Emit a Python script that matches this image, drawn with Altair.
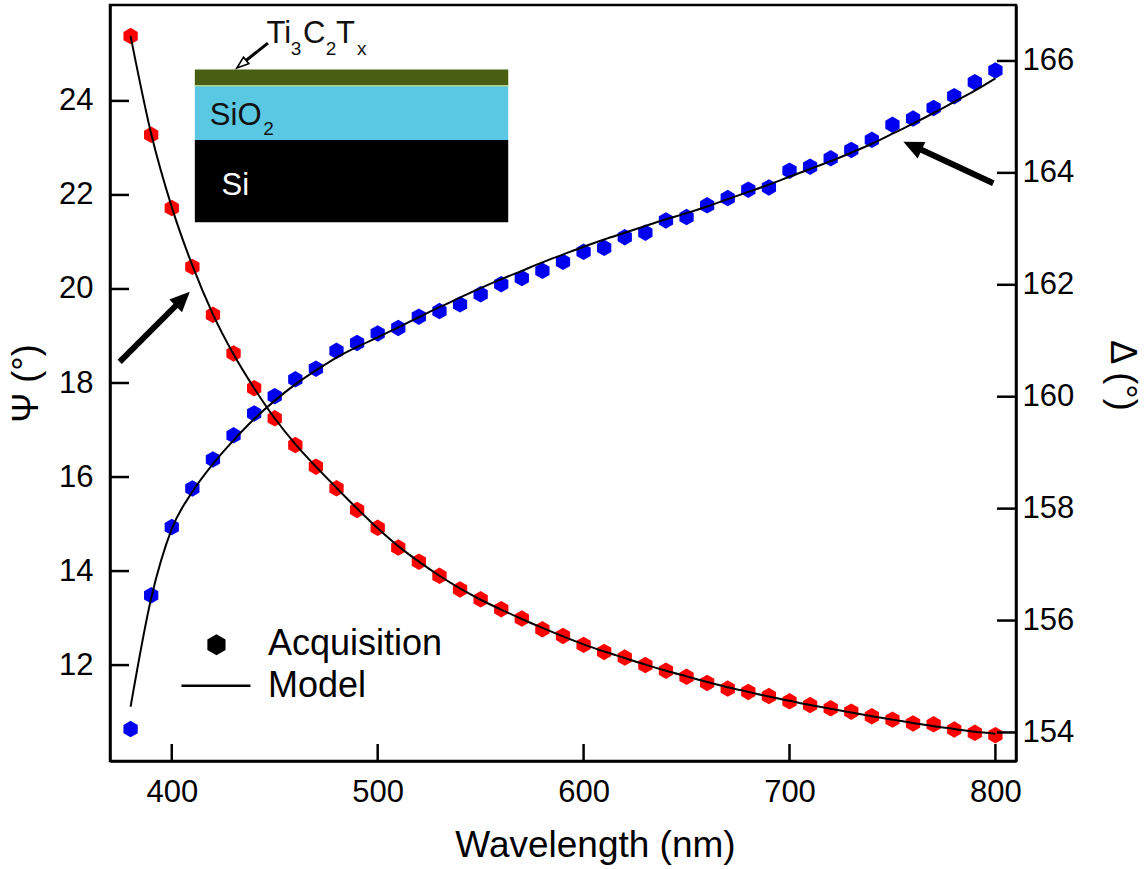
import altair as alt
import pandas as pd

# ---------------- data ----------------
wavelength = list(range(380, 801, 10))

psi_acq = [25.38, 23.28, 21.72, 20.47, 19.45, 18.63, 17.89, 17.25, 16.68, 16.22,
           15.76, 15.30, 14.92, 14.50, 14.20, 13.90, 13.61, 13.40, 13.19, 12.99,
           12.76, 12.62, 12.43, 12.28, 12.16, 12.00, 11.88, 11.75, 11.62, 11.50,
           11.43, 11.34, 11.23, 11.15, 11.08, 11.01, 10.91, 10.84, 10.76, 10.74,
           10.63, 10.56, 10.51]

psi_model = [25.38, 23.30, 21.74, 20.50, 19.46, 18.61, 17.89, 17.25, 16.70, 16.22,
             15.77, 15.33, 14.91, 14.53, 14.20, 13.90, 13.63, 13.39, 13.18, 12.98,
             12.79, 12.61, 12.44, 12.29, 12.15, 12.01, 11.88, 11.76, 11.64, 11.53,
             11.43, 11.33, 11.24, 11.15, 11.07, 10.99, 10.91, 10.84, 10.77, 10.70,
             10.64, 10.58, 10.54]

delta_acq = [154.06, 156.45, 157.67, 158.36, 158.88, 159.31, 159.70, 160.01, 160.31, 160.50,
             160.82, 160.96, 161.13, 161.23, 161.43, 161.53, 161.65, 161.83, 162.01, 162.12,
             162.25, 162.41, 162.59, 162.66, 162.85, 162.93, 163.15, 163.21, 163.42, 163.55,
             163.70, 163.74, 164.04, 164.11, 164.26, 164.41, 164.59, 164.86, 164.97, 165.16,
             165.37, 165.62, 165.83]

delta_model = [154.46, 156.40, 157.64, 158.30, 158.80, 159.22, 159.60, 159.93, 160.22, 160.47,
               160.70, 160.89, 161.06, 161.24, 161.42, 161.60, 161.77, 161.94, 162.10, 162.25,
               162.40, 162.54, 162.68, 162.81, 162.93, 163.05, 163.17, 163.28, 163.40, 163.53,
               163.66, 163.79, 163.93, 164.07, 164.21, 164.36, 164.52, 164.70, 164.88, 165.07,
               165.27, 165.47, 165.69]

x_ticks = [400, 500, 600, 700, 800]
psi_ticks = [12, 14, 16, 18, 20, 22, 24]
delta_ticks = [154, 156, 158, 160, 162, 164, 166]

# annotation anchors (wavelength, Psi) in data units
inset_x = [411.2, 563.4]
layer_ti = [24.32, 24.67]
layer_sio2 = [23.17, 24.32]
layer_si = [21.42, 23.17]

big_text = ["SiO", "Ti", "C", "T"]
big_text_x = [418.5, 446.0, 463.7, 479.7]
big_text_y = [23.49, 25.23, 25.23, 25.23]
sub_text = ["2", "3", "2", "x"]
sub_text_x = [444.4, 457.8, 474.8, 489.9]
sub_text_y = [23.28, 24.98, 24.98, 24.98]
si_text = ["Si"]
si_text_x = [424.2]
si_text_y = [22.0]

# arrows: tail, shaft end, tip, head angle
arrow_tail_x = [374.7, 799.0]
arrow_tail_y = [18.45, 22.25]
arrow_end_x = [404.6, 760.6]
arrow_end_y = [19.76, 23.03]
arrow_tip_x = [408.75, 755.3]
arrow_tip_y = [19.94, 23.13]
arrow_angle = [45, 295]

ti_tail = (446.7, 25.23)
ti_end = (434.6, 24.81)
ti_tip = (431.6, 24.70)
ti_angle = 231

legend_sym = (421.7, 12.43)
legend_line = (404.7, 438.2, 11.56)
legend_labels = ["Acquisition", "Model"]
legend_label_x = [446.7, 446.7]
legend_label_y = [12.21, 11.33]

# ---------------- setup ----------------
W, H = 906, 756
FONT = "Liberation Sans"
HEX = "M0,-1L0.866,-0.5L0.866,0.5L0,1L-0.866,0.5L-0.866,-0.5Z"
HEAD = "M0,0L-0.9,2L0.9,2Z"
HEAD_THIN = "M0,0L-0.7,2L0.7,2Z"

xscale = alt.Scale(domain=[370, 810], nice=False, zero=False)
psiscale = alt.Scale(domain=[9.96, 26.04], nice=False, zero=False)
delscale = alt.Scale(domain=[153.49, 167.0], nice=False, zero=False)

x_axis = alt.Axis(values=x_ticks, ticks=False, tickSize=0, grid=False, title="Wavelength (nm)",
                  labelFontSize=31, titleFontSize=37, titleFontWeight="normal",
                  labelPadding=16, titlePadding=20, titleX=485, domainColor="black", domainWidth=2.5,
                  labelColor="black", titleColor="black", labelFont=FONT, titleFont=FONT)
psi_axis = alt.Axis(values=psi_ticks, ticks=False, tickSize=0, grid=False, title="Ψ (°)",
                    labelFontSize=31, titleFontSize=36, titleFontWeight="normal",
                    labelPadding=17, titlePadding=13, domainColor="black", domainWidth=2.5,
                    labelColor="black", titleColor="black", labelFont=FONT, titleFont=FONT)
del_axis = alt.Axis(values=delta_ticks, orient="right", ticks=False, tickSize=0, grid=False,
                    title="Δ (°)", labelFontSize=31, titleFontSize=36, titleFontWeight="normal",
                    labelPadding=6, titlePadding=29, titleY=370, domainColor="black", domainWidth=2.5,
                    labelColor="black", titleColor="black", labelFont=FONT, titleFont=FONT)


def X(f):
    return alt.X(f, type="quantitative", scale=xscale, axis=x_axis)


def YP(f):
    return alt.Y(f, type="quantitative", scale=psiscale, axis=psi_axis)


def YD(f):
    return alt.Y(f, type="quantitative", scale=delscale, axis=del_axis)


df = pd.DataFrame({"wl": wavelength, "psi": psi_acq, "psim": psi_model,
                   "delta": delta_acq, "deltam": delta_model})

psi_pts = alt.Chart(df).mark_point(shape=HEX, filled=True, size=272, opacity=1,
                                   color="#ff0000").encode(x=X("wl"), y=YP("psi"))
psi_line = alt.Chart(df).mark_line(color="black", strokeWidth=2,
                                   interpolate="monotone").encode(x=X("wl"), y=YP("psim"))

del_pts = alt.Chart(df).mark_point(shape=HEX, filled=True, size=272, opacity=1,
                                   color="#0000f0").encode(x=X("wl"), y=YD("delta"))
del_line = alt.Chart(df).mark_line(color="black", strokeWidth=2,
                                   interpolate="monotone").encode(x=X("wl"), y=YD("deltam"))

# inward ticks
xt = alt.Chart(pd.DataFrame({"v": x_ticks})).mark_rule(color="black", strokeWidth=2.5).encode(
    x=X("v"), y=alt.value(H), y2=alt.value(H - 17))
pt = alt.Chart(pd.DataFrame({"v": psi_ticks})).mark_rule(color="black", strokeWidth=2.5).encode(
    y=YP("v"), x=alt.value(0), x2=alt.value(19))
dt = alt.Chart(pd.DataFrame({"v": delta_ticks})).mark_rule(color="black", strokeWidth=2.5).encode(
    y=YD("v"), x=alt.value(W - 19), x2=alt.value(W))


def rect(yr, color):
    d = pd.DataFrame({"x1": [inset_x[0]], "x2": [inset_x[1]], "y1": [yr[0]], "y2": [yr[1]]})
    return alt.Chart(d).mark_rect(color=color).encode(
        x=X("x1"), x2="x2", y=YP("y1"), y2="y2")


r_si = rect(layer_si, "#000000")
r_sio2 = rect(layer_sio2, "#5bc8e3")
r_ti = rect(layer_ti, "#4a5e12")
sep = alt.Chart(pd.DataFrame({"x1": [inset_x[0]], "x2": [inset_x[1]], "y": [layer_ti[0]]})).mark_rule(
    color="#b5d08a", strokeWidth=1.5).encode(x=X("x1"), x2="x2", y=YP("y"))

t_big = alt.Chart(pd.DataFrame({"t": big_text, "x": big_text_x, "y": big_text_y})).mark_text(
    align="left", baseline="alphabetic", fontSize=31, font=FONT, color="#111111").encode(
    x=X("x"), y=YP("y"), text="t:N")
t_sub = alt.Chart(pd.DataFrame({"t": sub_text, "x": sub_text_x, "y": sub_text_y})).mark_text(
    align="left", baseline="alphabetic", fontSize=19, font=FONT, color="#111111").encode(
    x=X("x"), y=YP("y"), text="t:N")
t_si = alt.Chart(pd.DataFrame({"t": si_text, "x": si_text_x, "y": si_text_y})).mark_text(
    align="left", baseline="alphabetic", fontSize=31, font=FONT, color="white").encode(
    x=X("x"), y=YP("y"), text="t:N")

adf = pd.DataFrame({"x1": arrow_tail_x, "y1": arrow_tail_y, "x2": arrow_end_x, "y2": arrow_end_y,
                    "tx": arrow_tip_x, "ty": arrow_tip_y, "a": arrow_angle})
shaft = alt.Chart(adf).mark_rule(color="black", strokeWidth=6, strokeCap="butt").encode(
    x=X("x1"), y=YP("y1"), x2="x2", y2="y2")
heads = alt.Chart(adf).mark_point(shape=HEAD, filled=True, size=400, color="black",
                                  opacity=1).encode(x=X("tx"), y=YP("ty"),
                                                    angle=alt.Angle("a:Q", scale=None))

tdf = pd.DataFrame({"x1": [ti_tail[0]], "y1": [ti_tail[1]], "x2": [ti_end[0]], "y2": [ti_end[1]],
                    "tx": [ti_tip[0]], "ty": [ti_tip[1]], "a": [ti_angle]})
ti_shaft = alt.Chart(tdf).mark_rule(color="black", strokeWidth=3).encode(
    x=X("x1"), y=YP("y1"), x2="x2", y2="y2")
ti_head = alt.Chart(tdf).mark_point(shape=HEAD_THIN, filled=False, size=144, color="black",
                                    fill="white", fillOpacity=1, strokeWidth=1.6,
                                    opacity=1).encode(x=X("tx"), y=YP("ty"),
                                                      angle=alt.Angle("a:Q", scale=None))

leg_sym = alt.Chart(pd.DataFrame({"x": [legend_sym[0]], "y": [legend_sym[1]]})).mark_point(
    shape=HEX, filled=True, size=441, color="black", opacity=1).encode(x=X("x"), y=YP("y"))
leg_line = alt.Chart(pd.DataFrame({"x1": [legend_line[0]], "x2": [legend_line[1]],
                                   "y": [legend_line[2]]})).mark_rule(
    color="black", strokeWidth=2.5).encode(x=X("x1"), x2="x2", y=YP("y"))
leg_text = alt.Chart(pd.DataFrame({"t": legend_labels, "x": legend_label_x,
                                   "y": legend_label_y})).mark_text(
    align="left", baseline="alphabetic", fontSize=36, font=FONT, color="black").encode(
    x=X("x"), y=YP("y"), text="t:N")

left = alt.layer(psi_pts, psi_line, pt, xt, r_si, r_sio2, r_ti, sep, t_big, t_sub, t_si,
                 shaft, heads, ti_shaft, ti_head, leg_sym, leg_line, leg_text)
right = alt.layer(del_pts, del_line, dt)

chart = alt.layer(left, right).resolve_scale(y="independent").properties(
    width=W, height=H,
    autosize=alt.AutoSizeParams(type="none"),
    padding={"left": 110, "top": 5, "right": 131, "bottom": 108},
    background="white",
).configure_view(stroke="black", strokeWidth=2.5)

chart.save("out.html", embed_options={"renderer": "svg", "actions": False})
